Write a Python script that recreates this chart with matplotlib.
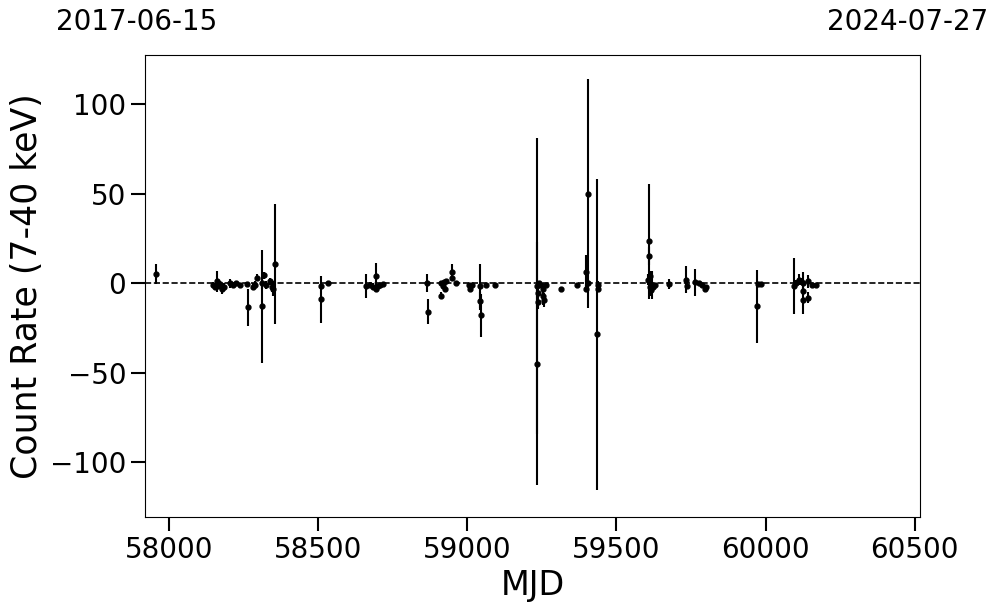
import matplotlib
matplotlib.use('Agg')
import matplotlib.pyplot as plt
import numpy as np

# light curve points: MJD, count rate, 1-sigma error
mjd = [57955,
       58146, 58155, 58160, 58165, 58172, 58178, 58185, 58203, 58213, 58223, 58237,
       58262, 58264, 58280, 58287, 58296, 58310, 58313, 58317, 58324, 58337, 58344,
       58348, 58354,
       58508, 58510, 58532,
       58659, 58672, 58682, 58693, 58695, 58700, 58706, 58716,
       58866, 58868, 58910, 58912, 58917, 58923, 58925, 58930, 58947, 58949, 58963,
       59007, 59009, 59014, 59041, 59043, 59045, 59064, 59094,
       59235, 59235, 59236, 59237, 59241, 59248, 59254, 59255, 59256, 59264,
       59315, 59368, 59398, 59399, 59405, 59406, 59436, 59437, 59438,
       59605, 59608, 59610, 59612, 59614, 59616, 59620, 59624, 59628,
       59677, 59734, 59736, 59765, 59778, 59788, 59798, 59799,
       59972, 59974, 59984,
       60095, 60102, 60112, 60113, 60119, 60125, 60126, 60127, 60142, 60143, 60155, 60168]
rate = [5.0,
        -1.0, -2.0, 1.0, -1.5, -0.5, -3.0, -2.0, 0.0, -1.0, 0.0, -1.0,
        -0.5, -13.5, -2.0, -1.0, 3.0, -13.0, 0.0, 4.5, -1.0, 1.0, -2.0,
        -3.0, 11.0,
        -1.5, -9.0, 0.0,
        -1.5, -1.0, -2.0, 4.0, -3.0, -1.5, -1.0, -0.5,
        0.0, -16.0, 0.0, -7.0, -1.5, 0.5, -3.0, 1.0, 6.0, 3.0, 0.0,
        -1.0, -3.0, -1.0, -1.5, -10.0, -18.0, -1.0, -1.0,
        -45.0, -1.5, -5.5, -10.5, 0.0, -1.0, -7.0, -3.5, -9.5, -1.0,
        -3.0, -1.0, 6.0, -3.0, 50.0, 0.0, -28.5, -1.0, -3.0,
        2.0, 15.0, 23.4, 4.0, -2.0, -4.0, -1.0, -2.0, -1.0,
        -0.5, 2.0, -1.5, 0.5, 0.0, -1.0, -3.0, -2.0,
        -13.0, -0.5, -0.5,
        -1.5, 0.0, 1.0, 2.0, 1.0, -4.5, -9.5, 0.0, 1.0, -8.0, -1.0, -1.0]
err = [5.5,
       1.5, 2.0, 6.0, 2.0, 2.0, 3.0, 2.0, 2.5, 1.5, 1.0, 1.0,
       1.0, 10.5, 2.0, 2.0, 2.0, 31.5, 3.0, 2.0, 2.0, 2.0, 3.0,
       4.0, 33.5,
       2.0, 13.0, 1.0,
       6.5, 1.5, 2.0, 7.5, 2.0, 1.0, 1.0, 1.0,
       5.0, 7.0, 1.0, 2.0, 1.5, 1.5, 2.0, 1.5, 5.0, 2.0, 1.0,
       1.0, 1.5, 1.0, 12.5, 5.0, 12.0, 1.0, 1.0,
       68.0, 82.5, 3.0, 4.0, 1.0, 1.0, 5.0, 2.0, 4.0, 1.0,
       1.0, 1.0, 9.5, 2.0, 64.0, 1.0, 87.0, 2.0, 2.0,
       3.0, 5.0, 32.0, 3.0, 3.0, 3.0, 8.0, 2.0, 1.0,
       3.0, 7.5, 2.0, 7.5, 1.0, 1.0, 1.5, 1.0,
       20.5, 1.0, 1.0,
       15.5, 2.0, 2.0, 3.0, 2.0, 2.0, 7.5, 6.5, 3.5, 3.0, 1.0, 1.0]

start_label = '2017-06-15'
end_label = '2024-07-27'
mjd_start = 57919
mjd_end = 60518

fig = plt.figure(figsize=(9.97, 6.13), dpi=100)
ax = fig.add_axes([145 / 997, 1 - 517 / 613, 775 / 997, 462 / 613])

ax.errorbar(mjd, rate, yerr=err, fmt='o', color='black', markersize=3.5,
            elinewidth=1.5, capsize=0)
ax.axhline(0, color='black', linestyle='--', linewidth=1.2)

ax.set_xlim(mjd_start, mjd_end)
ax.set_ylim(-130.6, 127.5)
ax.set_xticks([58000, 58500, 59000, 59500, 60000, 60500])
ax.set_yticks([-100, -50, 0, 50, 100])
ax.tick_params(axis='both', labelsize=20, length=10, width=1.5)
ax.set_xlabel('MJD', fontsize=24)
ax.set_ylabel('Count Rate (7-40 keV)', fontsize=25)

fig.text(136.5 / 997, 1 - 22 / 613, start_label, fontsize=20, ha='center', va='center')
fig.text(907.5 / 997, 1 - 22 / 613, end_label, fontsize=20, ha='center', va='center')

fig.savefig('out.png', dpi=100)
